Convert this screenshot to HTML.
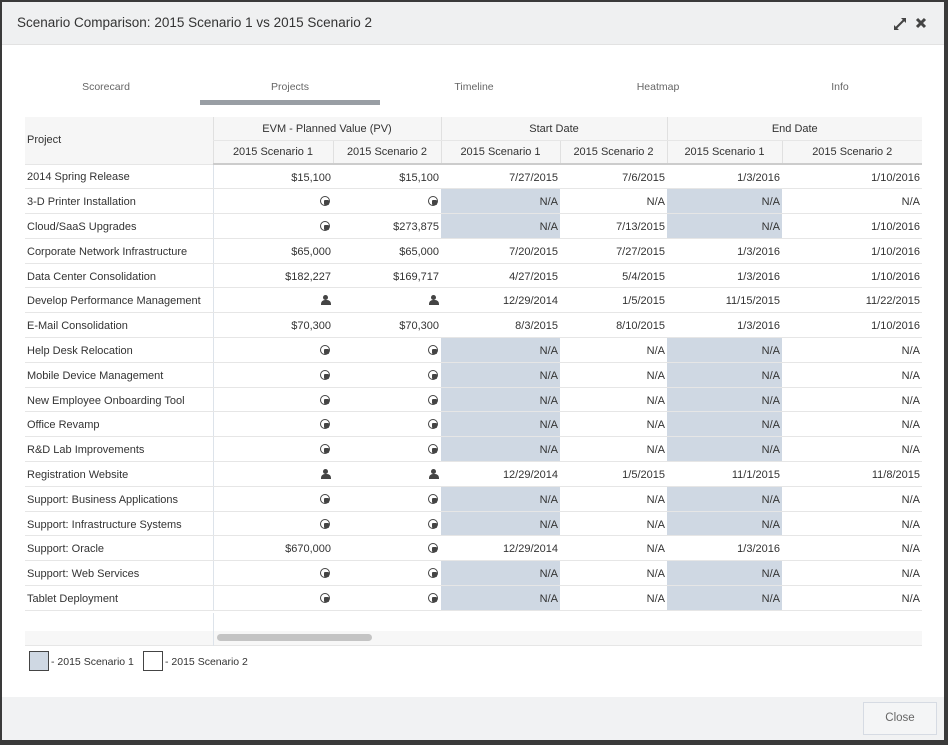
<!DOCTYPE html>
<html><head><meta charset="utf-8"><style>
*{box-sizing:border-box;margin:0;padding:0}
body{width:948px;height:745px;background:#3a3a3a;font-family:"Liberation Sans",sans-serif;color:#333;position:relative;overflow:hidden}
#dlg{position:absolute;left:2px;top:2px;width:942px;height:738px;background:#fff}
#hdr{position:absolute;left:0;top:0;width:942px;height:43px;background:#eff0f1;border-bottom:1px solid #e2e2e2}
#hdr .t{position:absolute;left:15px;top:13px;font-size:13.5px;color:#333}
#ftr{position:absolute;left:0;top:695px;width:942px;height:43px;background:#f1f2f3}
#close{position:absolute;right:7px;top:5px;width:74px;height:33px;border:1px solid #d6dbe3;background:#f4f5f6;font-size:11.5px;color:#666;text-align:center;line-height:31px}
.tab{position:absolute;top:79px;font-size:10.5px;color:#666;text-align:center}
#ul{position:absolute;left:198px;top:98px;width:180px;height:5px;background:#999ea4}
table{position:absolute;left:23px;top:115px;border-collapse:collapse;table-layout:fixed;font-size:11px}
td,th{border-bottom:1px solid #e6e6e6;white-space:nowrap;overflow:hidden}
th{background:#f6f6f6;font-weight:normal;height:23.5px;border-left:1px solid #e0e0e0;text-align:center;color:#333}
th.p{text-align:left;padding-left:2px;border-left:none}
thead tr:last-child th{border-bottom:2px solid #ccc}
td{height:24.8px;text-align:right;padding-right:2px;padding-top:2px}
td.n{text-align:left;padding-left:2px;border-right:1px solid #dde3ea}
td.s{background:#cfd8e3}
.i{display:inline-block;width:10px;height:10px;border:1.6px solid #444;border-radius:50%;vertical-align:-1px;position:relative;margin-right:1px}
.i:after{content:"";position:absolute;left:3px;top:3px;width:5px;height:5px;background:#444;border-radius:1px}
.u{display:inline-block;width:10px;height:10px;vertical-align:-1px;position:relative}
.u:before{content:"";position:absolute;left:2px;top:0;width:5px;height:5px;background:#444;border-radius:50%}
.u:after{content:"";position:absolute;left:0;top:5px;width:10px;height:5px;background:#444;border-radius:4px 4px 0 0}
#scr{position:absolute;left:23px;top:611px;width:897px;height:33px;border-bottom:1px solid #e6e6e6}
#scr .tr{position:absolute;left:0;top:18px;width:897px;height:14px;background:#f7f7f7}
#scr .th{position:absolute;left:192px;top:21px;width:155px;height:7px;background:#c4c4c4;border-radius:4px}
#scr .v{position:absolute;left:188px;top:0;width:1px;height:33px;background:#dde3ea}
.lg{position:absolute;top:649px;width:20px;height:20px;border:1px solid #444}
.lt{position:absolute;top:654px;font-size:10.5px;color:#333}
</style></head><body>
<div id="dlg">
<div id="hdr"><div class="t">Scenario Comparison: 2015 Scenario 1 vs 2015 Scenario 2</div>
<svg style="position:absolute;left:890px;top:14px" width="16" height="16" viewBox="0 0 16 16"><path d="M3 13 L13 3" stroke="#444" stroke-width="2"/><path d="M9 2 H14 V7 Z M2 9 V14 H7 Z" fill="#444"/></svg>
<svg style="position:absolute;left:913px;top:15px" width="12" height="12" viewBox="0 0 12 12"><path d="M2 2 L10 10 M10 2 L2 10" stroke="#444" stroke-width="3"/></svg>
</div>
<div class="tab" style="left:54px;width:100px">Scorecard</div>
<div class="tab" style="left:238px;width:100px">Projects</div>
<div class="tab" style="left:422px;width:100px">Timeline</div>
<div class="tab" style="left:606px;width:100px">Heatmap</div>
<div class="tab" style="left:788px;width:100px">Info</div>
<div id="ul"></div>
<table>
<colgroup><col style="width:188px"><col style="width:120px"><col style="width:108px"><col style="width:119px"><col style="width:107px"><col style="width:115px"><col style="width:140px"></colgroup>
<thead>
<tr><th class="p" rowspan="2">Project</th><th colspan="2">EVM - Planned Value (PV)</th><th colspan="2">Start Date</th><th colspan="2">End Date</th></tr>
<tr><th>2015 Scenario 1</th><th>2015 Scenario 2</th><th>2015 Scenario 1</th><th>2015 Scenario 2</th><th>2015 Scenario 1</th><th>2015 Scenario 2</th></tr>
</thead>
<tbody>
<tr><td class="n">2014 Spring Release</td><td>$15,100</td><td>$15,100</td><td>7/27/2015</td><td>7/6/2015</td><td>1/3/2016</td><td>1/10/2016</td></tr>
<tr><td class="n">3-D Printer Installation</td><td><span class="i"></span></td><td><span class="i"></span></td><td class="s">N/A</td><td>N/A</td><td class="s">N/A</td><td>N/A</td></tr>
<tr><td class="n">Cloud/SaaS Upgrades</td><td><span class="i"></span></td><td>$273,875</td><td class="s">N/A</td><td>7/13/2015</td><td class="s">N/A</td><td>1/10/2016</td></tr>
<tr><td class="n">Corporate Network Infrastructure</td><td>$65,000</td><td>$65,000</td><td>7/20/2015</td><td>7/27/2015</td><td>1/3/2016</td><td>1/10/2016</td></tr>
<tr><td class="n">Data Center Consolidation</td><td>$182,227</td><td>$169,717</td><td>4/27/2015</td><td>5/4/2015</td><td>1/3/2016</td><td>1/10/2016</td></tr>
<tr><td class="n">Develop Performance Management</td><td><span class="u"></span></td><td><span class="u"></span></td><td>12/29/2014</td><td>1/5/2015</td><td>11/15/2015</td><td>11/22/2015</td></tr>
<tr><td class="n">E-Mail Consolidation</td><td>$70,300</td><td>$70,300</td><td>8/3/2015</td><td>8/10/2015</td><td>1/3/2016</td><td>1/10/2016</td></tr>
<tr><td class="n">Help Desk Relocation</td><td><span class="i"></span></td><td><span class="i"></span></td><td class="s">N/A</td><td>N/A</td><td class="s">N/A</td><td>N/A</td></tr>
<tr><td class="n">Mobile Device Management</td><td><span class="i"></span></td><td><span class="i"></span></td><td class="s">N/A</td><td>N/A</td><td class="s">N/A</td><td>N/A</td></tr>
<tr><td class="n">New Employee Onboarding Tool</td><td><span class="i"></span></td><td><span class="i"></span></td><td class="s">N/A</td><td>N/A</td><td class="s">N/A</td><td>N/A</td></tr>
<tr><td class="n">Office Revamp</td><td><span class="i"></span></td><td><span class="i"></span></td><td class="s">N/A</td><td>N/A</td><td class="s">N/A</td><td>N/A</td></tr>
<tr><td class="n">R&amp;D Lab Improvements</td><td><span class="i"></span></td><td><span class="i"></span></td><td class="s">N/A</td><td>N/A</td><td class="s">N/A</td><td>N/A</td></tr>
<tr><td class="n">Registration Website</td><td><span class="u"></span></td><td><span class="u"></span></td><td>12/29/2014</td><td>1/5/2015</td><td>11/1/2015</td><td>11/8/2015</td></tr>
<tr><td class="n">Support: Business Applications</td><td><span class="i"></span></td><td><span class="i"></span></td><td class="s">N/A</td><td>N/A</td><td class="s">N/A</td><td>N/A</td></tr>
<tr><td class="n">Support: Infrastructure Systems</td><td><span class="i"></span></td><td><span class="i"></span></td><td class="s">N/A</td><td>N/A</td><td class="s">N/A</td><td>N/A</td></tr>
<tr><td class="n">Support: Oracle</td><td>$670,000</td><td><span class="i"></span></td><td>12/29/2014</td><td>N/A</td><td>1/3/2016</td><td>N/A</td></tr>
<tr><td class="n">Support: Web Services</td><td><span class="i"></span></td><td><span class="i"></span></td><td class="s">N/A</td><td>N/A</td><td class="s">N/A</td><td>N/A</td></tr>
<tr><td class="n">Tablet Deployment</td><td><span class="i"></span></td><td><span class="i"></span></td><td class="s">N/A</td><td>N/A</td><td class="s">N/A</td><td>N/A</td></tr>
</tbody></table>
<div id="scr"><div class="tr"></div><div class="th"></div><div class="v"></div></div>
<div class="lg" style="left:27px;background:#cfd8e3"></div><div class="lt" style="left:49px">- 2015 Scenario 1</div>
<div class="lg" style="left:141px;background:#fff"></div><div class="lt" style="left:163px">- 2015 Scenario 2</div>
<div id="ftr"><div id="close">Close</div></div>
</div>
</body></html>
